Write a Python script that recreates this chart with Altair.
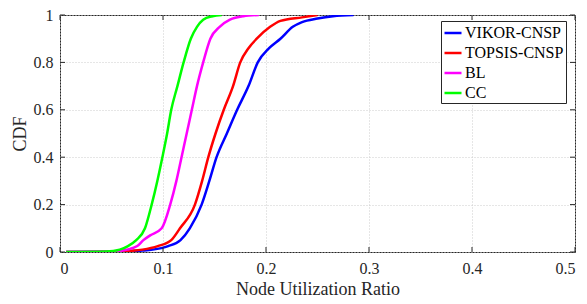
import altair as alt
import pandas as pd

series_names = ["VIKOR-CNSP", "TOPSIS-CNSP", "BL", "CC"]
series_colors = ["#0000FF", "#FF0000", "#FF00FF", "#00FF00"]

x_vikor = [0.006, 0.06, 0.08, 0.09, 0.105, 0.117, 0.126, 0.1375, 0.145, 0.152, 0.162, 0.172, 0.183, 0.192, 0.203, 0.214, 0.226, 0.235, 0.25, 0.265, 0.285]
y_vikor = [0.0, 0.002, 0.006, 0.01, 0.025, 0.05, 0.1, 0.2, 0.3, 0.4, 0.5, 0.6, 0.7, 0.8, 0.86, 0.9, 0.95, 0.97, 0.985, 0.995, 1.0]

x_topsis = [0.006, 0.05, 0.07, 0.08, 0.095, 0.108, 0.1165, 0.131, 0.138, 0.144, 0.151, 0.159, 0.168, 0.175, 0.183, 0.191, 0.204, 0.214, 0.235, 0.25]
y_topsis = [0.0, 0.001, 0.005, 0.01, 0.025, 0.05, 0.1, 0.2, 0.3, 0.4, 0.5, 0.6, 0.7, 0.8, 0.86, 0.9, 0.95, 0.975, 0.99, 1.0]

x_bl = [0.006, 0.05, 0.065, 0.075, 0.081, 0.0875, 0.0987, 0.107, 0.113, 0.118, 0.123, 0.128, 0.133, 0.139, 0.146, 0.155, 0.165, 0.178, 0.193]
y_bl = [0.0, 0.002, 0.01, 0.025, 0.05, 0.07, 0.1, 0.2, 0.3, 0.4, 0.5, 0.6, 0.7, 0.8, 0.9, 0.95, 0.98, 0.995, 1.0]

x_cc = [0.006, 0.045, 0.058, 0.066, 0.074, 0.0825, 0.089, 0.0945, 0.0994, 0.104, 0.108, 0.114, 0.12, 0.127, 0.133, 0.139, 0.148, 0.157]
y_cc = [0.0, 0.002, 0.01, 0.025, 0.05, 0.1, 0.2, 0.3, 0.4, 0.5, 0.6, 0.7, 0.8, 0.9, 0.95, 0.98, 0.995, 1.0]

x_ticks = [0, 0.1, 0.2, 0.3, 0.4, 0.5]
y_ticks = [0, 0.2, 0.4, 0.6, 0.8, 1]

rows = []
for name, xs, ys in zip(series_names, [x_vikor, x_topsis, x_bl, x_cc], [y_vikor, y_topsis, y_bl, y_cc]):
    for i, (a, b) in enumerate(zip(xs, ys)):
        rows.append({"series": name, "x": a, "cdf": b, "i": i})
df = pd.DataFrame(rows)

W, H = 515, 237
FONT = "Liberation Serif"
TXT = "#262626"

xscale = alt.Scale(domain=[0, 0.5], nice=False, zero=False)
yscale = alt.Scale(domain=[0, 1], nice=False)

xaxis = alt.Axis(values=x_ticks, format="~g", title="Node Utilization Ratio", grid=True,
                 gridDash=[1, 2], gridColor="#cccccc", tickSize=0, labelPadding=8,
                 titlePadding=4, domain=False)
yaxis = alt.Axis(values=y_ticks, format="~g", title="CDF", grid=True,
                 gridDash=[1, 2], gridColor="#cccccc", tickSize=0, labelPadding=7,
                 titlePadding=4, domain=False)

lines = alt.Chart(df).mark_line(strokeWidth=2.5, clip=True, interpolate="monotone").encode(
    x=alt.X("x:Q", scale=xscale, axis=xaxis),
    y=alt.Y("cdf:Q", scale=yscale, axis=yaxis),
    color=alt.Color("series:N", scale=alt.Scale(domain=series_names, range=series_colors),
                    sort=series_names,
                    legend=alt.Legend(title=None, orient="none", legendX=381, legendY=6,
                                      symbolType="stroke", symbolSize=289, symbolStrokeWidth=2.5,
                                      labelFont=FONT, labelFontSize=16, labelColor="#000000",
                                      labelOffset=2, rowPadding=2, padding=2,
                                      strokeColor="#262626", fillColor="#ffffff")),
    order=alt.Order("i:Q"),
)

xt = pd.DataFrame({"t": x_ticks})
yt = pd.DataFrame({"t": y_ticks})
tick_b = alt.Chart(xt).mark_rule(color=TXT, strokeWidth=1).encode(
    x=alt.X("t:Q", scale=xscale), y=alt.value(H), y2=alt.value(H - 5))
tick_t = alt.Chart(xt).mark_rule(color=TXT, strokeWidth=1).encode(
    x=alt.X("t:Q", scale=xscale), y=alt.value(0), y2=alt.value(5))
tick_l = alt.Chart(yt).mark_rule(color=TXT, strokeWidth=1).encode(
    y=alt.Y("t:Q", scale=yscale), x=alt.value(0), x2=alt.value(5))
tick_r = alt.Chart(yt).mark_rule(color=TXT, strokeWidth=1).encode(
    y=alt.Y("t:Q", scale=yscale), x=alt.value(W), x2=alt.value(W - 5))

chart = alt.layer(lines, tick_b, tick_t, tick_l, tick_r).properties(
    width=W, height=H,
    background="white",
    autosize=alt.AutoSizeParams(type="none"),
    padding={"left": 52, "top": 7, "right": 4, "bottom": 50},
).configure_view(stroke=TXT, strokeWidth=1).configure_axis(
    labelFont=FONT, labelFontSize=16, labelColor=TXT,
    titleFont=FONT, titleFontSize=18, titleColor=TXT, titleFontWeight="normal",
)

chart.save("out.html", embed_options={"renderer": "svg", "actions": False})
